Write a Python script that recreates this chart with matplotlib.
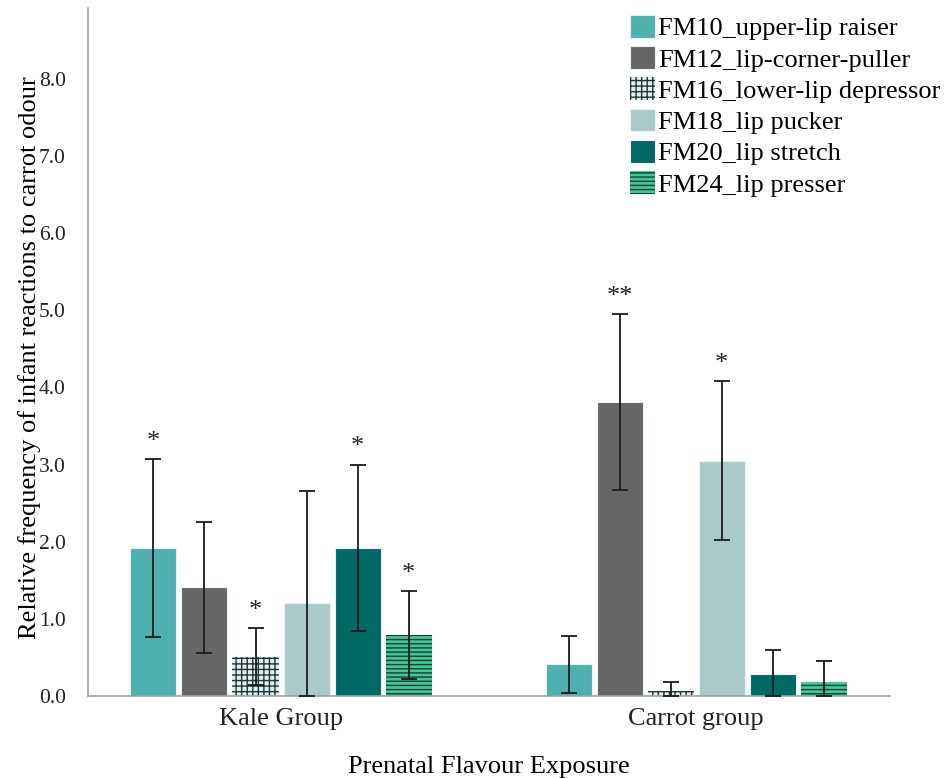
import matplotlib.pyplot as plt
import numpy as np

plt.rcParams['font.family'] = ['Liberation Serif', 'DejaVu Serif']
plt.rcParams['hatch.linewidth'] = 1.0

groups = ['Kale Group', 'Carrot group']
series = ['FM10_upper-lip raiser', 'FM12_lip-corner-puller', 'FM16_lower-lip depressor',
          'FM18_lip pucker', 'FM20_lip stretch', 'FM24_lip presser']

# mean per series: [kale, carrot]
means = [[1.92, 0.41],
         [1.41, 3.81],
         [0.51, 0.06],
         [1.21, 3.05],
         [1.92, 0.29],
         [0.79, 0.18]]
# half-width of the error bars
errs = [[1.15, 0.37],
        [0.85, 1.14],
        [0.37, 0.12],
        [1.45, 1.03],
        [1.08, 0.31],
        [0.57, 0.27]]
stars = [['*', ''],
         ['', '**'],
         ['*', ''],
         ['', '*'],
         ['*', ''],
         ['*', '']]

colors = ['#4fb0b0', '#666666', '#dcf1f1', '#a8cac8', '#006966', '#3dc997']
hatches = [None, None, '+++', None, None, '----']
hatch_edge = [None, None, '#2a3535', None, None, '#1e3a30']

fig = plt.figure(figsize=(9.5, 7.78), dpi=100)
ax = fig.add_axes([0.0926, 0.1054, 0.8444, 0.8843])

x = np.arange(len(groups))
step = 0.123
width = 0.111
for i, name in enumerate(series):
    pos = x + (i - 2.5) * step
    m = np.array(means[i])
    e = np.array(errs[i])
    lower = np.minimum(e, m)
    if hatches[i]:
        ax.bar(pos, m, width, color=colors[i], hatch=hatches[i],
               edgecolor=hatch_edge[i], linewidth=0, label=name, zorder=2)
    else:
        ax.bar(pos, m, width, color=colors[i], edgecolor='#e8f2f2',
               linewidth=0.8, label=name, zorder=2)
    ax.errorbar(pos, m, yerr=[lower, e], fmt='none', ecolor='#1a1a1a',
                elinewidth=1.3, capsize=6, capthick=1.3, zorder=3)
    for j in range(len(groups)):
        if stars[i][j]:
            ax.text(pos[j], m[j] + e[j] + 0.08, stars[i][j], ha='center',
                    va='bottom', fontsize=19, color='#222222')

ax.set_xlim(-0.465, 1.467)
ax.set_ylim(0, 8.92)
ax.set_yticks(np.arange(0, 9, 1.0))
ax.set_yticklabels([f'{v:.1f}' for v in np.arange(0, 9, 1.0)], fontsize=15.5)
ax.set_xticks(x)
ax.set_xticklabels(groups, fontsize=19)
ax.tick_params(axis='both', length=0, colors='#222222')
ax.tick_params(axis='x', pad=9)
ax.tick_params(axis='y', pad=16)

for side in ['top', 'right']:
    ax.spines[side].set_visible(False)
for side in ['left', 'bottom']:
    ax.spines[side].set_color('#a0a0a0')
    ax.spines[side].set_linewidth(1.2)

ax.set_xlabel('Prenatal Flavour Exposure', fontsize=19)
ax.xaxis.set_label_coords(0.5, -0.087)
ax.set_ylabel('Relative frequency of infant reactions to carrot odour', fontsize=19)
ax.yaxis.set_label_coords(-0.058, 0.492)

ax.legend(loc='upper left', bbox_to_anchor=(0.676, 0.99), frameon=False,
          fontsize=19, handlelength=0.95, handleheight=0.95, handletextpad=0.1,
          labelspacing=0.22, borderpad=0, borderaxespad=0)

fig.savefig('out.png', dpi=100)
